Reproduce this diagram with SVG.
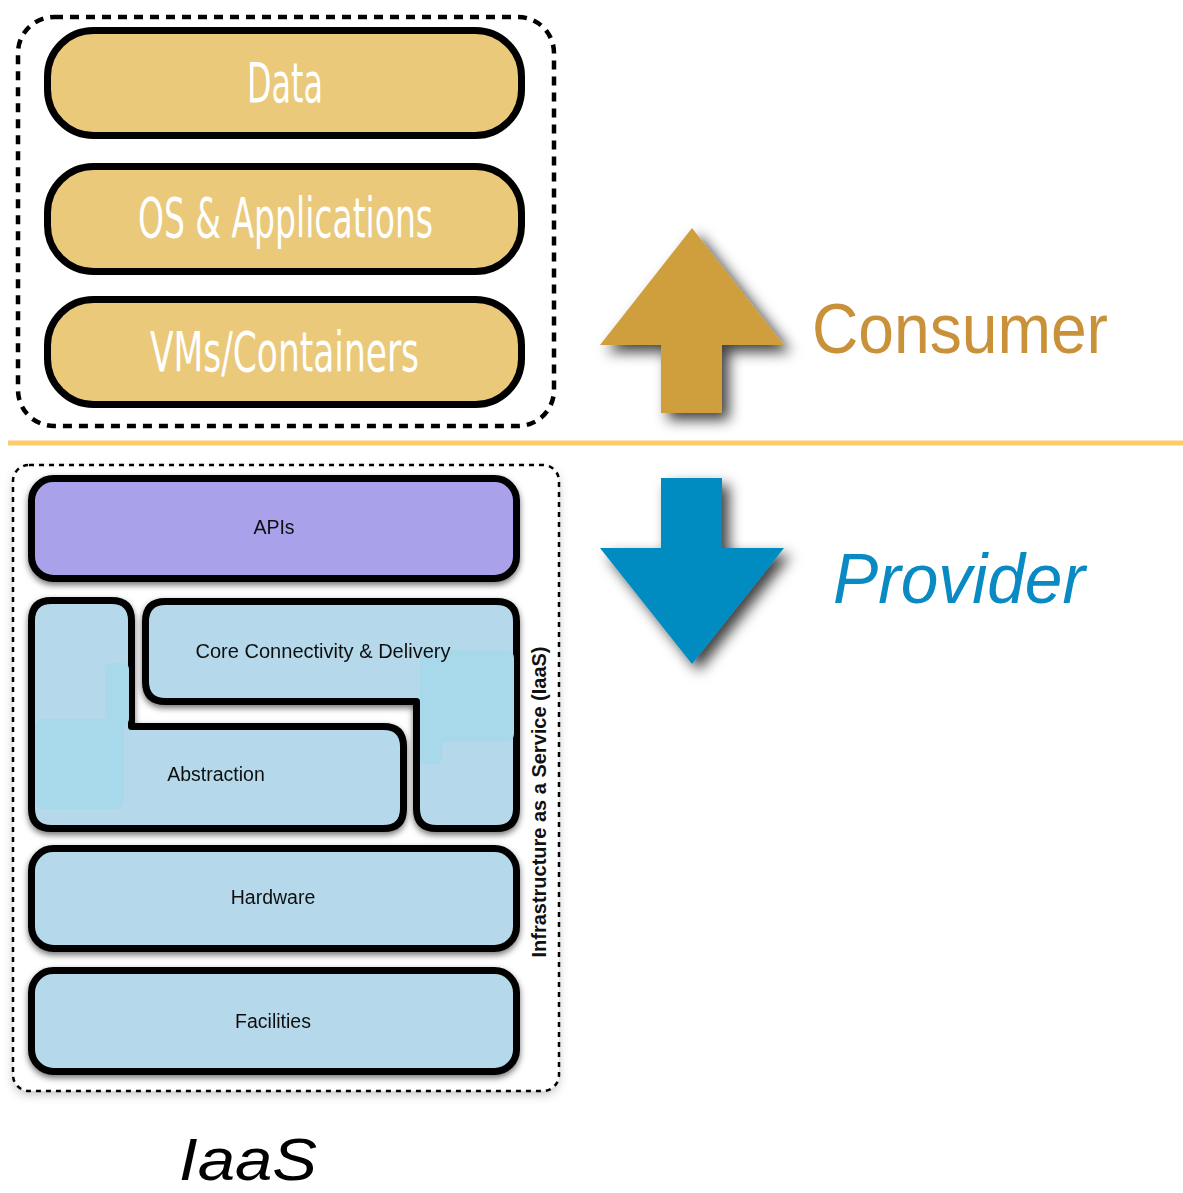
<svg xmlns="http://www.w3.org/2000/svg" width="1183" height="1193" viewBox="0 0 1183 1193">
  <defs>
    <filter id="arrowShadow" x="-30%" y="-30%" width="160%" height="160%">
      <feDropShadow dx="7" dy="7" stdDeviation="7" flood-color="#000" flood-opacity="0.75"/>
    </filter>
    <filter id="layerShadow" x="-10%" y="-10%" width="120%" height="130%">
      <feDropShadow dx="0" dy="3" stdDeviation="3" flood-color="#000" flood-opacity="0.55"/>
    </filter>
    <filter id="frameShadow" x="-10%" y="-10%" width="120%" height="120%">
      <feDropShadow dx="0" dy="4" stdDeviation="5" flood-color="#000" flood-opacity="0.22"/>
    </filter>
    <style>
      .gold { fill: #EAC97B; stroke: #000; stroke-width: 7; }
      .goldLabel { font-family: "Liberation Sans Narrow", "DejaVu Sans Condensed", "Liberation Sans", sans-serif; font-stretch: condensed; font-size: 55px; fill: #fff; text-anchor: middle; }
      .layer { fill: #B5D8EA; stroke: #000; stroke-width: 7; stroke-linejoin: round; }
      .api { fill: #A9A1EA; }
      .patch { fill: #A7D9EA; }
      .label { font-family: "Liberation Sans", Arial, sans-serif; font-size: 19.5px; fill: #111; text-anchor: middle; }
      .big { font-family: "Liberation Sans", "Open Sans", sans-serif; font-size: 70px; text-anchor: middle; }
    </style>
  </defs>

  <!-- consumer-managed stack -->
  <g id="consumer-frame">
    <rect x="18" y="17" width="536" height="409" rx="36" fill="none" stroke="#000" stroke-width="4.5" stroke-dasharray="9 7"/>
  </g>
  <g id="data">
    <rect class="gold" x="47.5" y="30.5" width="474" height="105" rx="46"/>
    <text class="goldLabel" x="285" y="102" textLength="76" lengthAdjust="spacingAndGlyphs">Data</text>
  </g>
  <g id="os-applications">
    <rect class="gold" x="47.5" y="166.5" width="474" height="105" rx="46"/>
    <text class="goldLabel" x="285.5" y="237" textLength="295" lengthAdjust="spacingAndGlyphs">OS &amp; Applications</text>
  </g>
  <g id="vms-containers">
    <rect class="gold" x="47.5" y="299.5" width="474" height="105" rx="46"/>
    <text class="goldLabel" x="284.5" y="371" textLength="269" lengthAdjust="spacingAndGlyphs">VMs/Containers</text>
  </g>

  <!-- responsibility divider -->
  <g id="divider">
    <line x1="8" y1="443" x2="1183" y2="443" stroke="#FCCB6A" stroke-width="5"/>
  </g>

  <!-- provider-managed stack (IaaS) -->
  <g id="iaas-frame">
    <rect x="13" y="465" width="546" height="626" rx="16" fill="#fff" filter="url(#frameShadow)"/>
    <rect x="13" y="465" width="546" height="626" rx="16" fill="none" stroke="#000" stroke-width="2.5" stroke-dasharray="5 5"/>
    <text x="0" y="0" transform="translate(546,802) rotate(-90)" font-family="Liberation Sans, Arial, sans-serif" font-weight="bold" font-size="19.5" fill="#111" text-anchor="middle" textLength="311" lengthAdjust="spacingAndGlyphs">Infrastructure as a Service (IaaS)</text>
  </g>
  <g id="apis" filter="url(#layerShadow)">
    <rect class="layer api" x="31.5" y="478.5" width="485" height="100" rx="22"/>
    <text class="label" x="274" y="534">APIs</text>
  </g>
  <g id="abstraction" filter="url(#layerShadow)">
    <path class="layer" d="M51.5,600.5 H111.5 Q131.5,600.5 131.5,620.5 V726.5 H383.5 Q403.5,726.5 403.5,746.5 V808.5 Q403.5,828.5 383.5,828.5 H51.5 Q31.5,828.5 31.5,808.5 V620.5 Q31.5,600.5 51.5,600.5 Z"/>
    <rect class="patch" x="35" y="719" width="89" height="90" rx="8"/>
    <rect class="patch" x="105" y="663" width="24" height="62" rx="6"/>
    <text class="label" x="216" y="781">Abstraction</text>
  </g>
  <g id="core-connectivity" filter="url(#layerShadow)">
    <path class="layer" d="M165.5,601.5 H496.5 Q516.5,601.5 516.5,621.5 V808.5 Q516.5,828.5 496.5,828.5 H436.5 Q416.5,828.5 416.5,808.5 V701.5 H165.5 Q145.5,701.5 145.5,681.5 V621.5 Q145.5,601.5 165.5,601.5 Z"/>
    <rect class="patch" x="420" y="650" width="94" height="92" rx="8"/>
    <rect class="patch" x="420" y="735" width="22" height="29" rx="6"/>
    <text class="label" x="323" y="658" textLength="255" lengthAdjust="spacingAndGlyphs">Core Connectivity &amp; Delivery</text>
  </g>
  <g id="hardware" filter="url(#layerShadow)">
    <rect class="layer" x="31.5" y="848.5" width="485" height="100" rx="22"/>
    <text class="label" x="273" y="904">Hardware</text>
  </g>
  <g id="facilities" filter="url(#layerShadow)">
    <rect class="layer" x="31.5" y="970.5" width="485" height="101" rx="22"/>
    <text class="label" x="273" y="1028">Facilities</text>
  </g>
  <g id="iaas-title">
    <text x="248" y="1180" font-family="Liberation Sans, Arial, sans-serif" font-style="italic" font-size="60" fill="#000" text-anchor="middle" textLength="138" lengthAdjust="spacingAndGlyphs">IaaS</text>
  </g>

  <!-- direction arrows -->
  <g id="connectors">
    <path id="up-arrow" d="M692,228 L784,345 H722 V413 H661 V345 H600 Z" fill="#CF9E3E" filter="url(#arrowShadow)"/>
    <path id="down-arrow" d="M661,478 H722 V548 H784 L692,664 L600,548 H661 Z" fill="#008BC1" filter="url(#arrowShadow)"/>
  </g>
  <g id="consumer-label">
    <text class="big" x="960" y="353" fill="#C8913A" textLength="296" lengthAdjust="spacingAndGlyphs">Consumer</text>
  </g>
  <g id="provider-label">
    <text class="big" x="959" y="603" fill="#0A8AC2" font-style="italic" textLength="252" lengthAdjust="spacingAndGlyphs">Provider</text>
  </g>
</svg>
